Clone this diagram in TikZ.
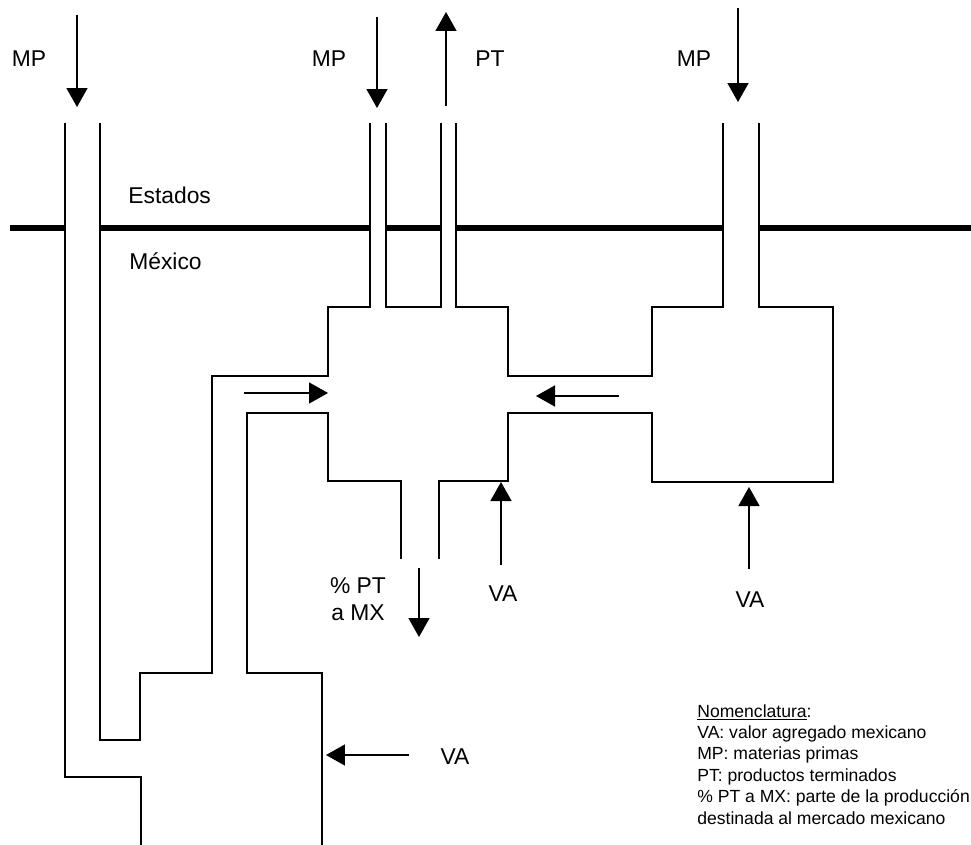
\documentclass[tikz,border=0pt]{standalone}
\usepackage{fontspec}
\setmainfont{Liberation Sans}
\usepackage{tikz}
\usetikzlibrary{arrows.meta,positioning}
\tikzset{
  wall/.style={draw=black, line width=0.9pt, line join=miter},
  border/.style={draw=black, line width=3.2pt},
  flow/.style={draw=black, line width=0.9pt, -{Triangle[length=0.38cm,width=0.42cm]}},
  lbl/.style={font=\fontsize{13}{15.5}\selectfont, inner sep=0pt, align=center},
  legend/.style={font=\fontsize{10}{12.2}\selectfont, inner sep=0pt, align=left, anchor=north west},
}

\begin{document}
\begin{tikzpicture}[x=0.02cm, y=-0.02cm]
  \useasboundingbox (0,0) rectangle (971,845);

  \draw[border] (10,228) -- (65,228);
  \draw[border] (100,228) -- (370,228);
  \draw[border] (386,228) -- (441,228);
  \draw[border] (456,228) -- (723,228);
  \draw[border] (759,228) -- (971,228);

  \draw[wall] (65,123) -- (65,777) -- (141,777) -- (141,845);
  \draw[wall] (100,123) -- (100,740) -- (140,740) -- (140,673) -- (212,673) -- (212,376) -- (328,376) -- (328,307) -- (370,307) -- (370,123);
  \draw[wall] (386,123) -- (386,307) -- (441,307) -- (441,123);
  \draw[wall] (456,123) -- (456,307) -- (508,307) -- (508,376) -- (652,376) -- (652,307) -- (723,307) -- (723,123);
  \draw[wall] (759,123) -- (759,307) -- (833,307) -- (833,482) -- (652,482) -- (652,413) -- (508,413) -- (508,481) -- (439,481) -- (439,559);
  \draw[wall] (401,559) -- (401,481) -- (328,481) -- (328,413) -- (247,413) -- (247,673) -- (322,673) -- (322,845);

  \coordinate (mp1a) at (77,15);    \coordinate (mp1b) at (77,107);
  \coordinate (mp2a) at (377,17);   \coordinate (mp2b) at (377,108);
  \coordinate (pta)  at (446,106);  \coordinate (ptb)  at (446,12);
  \coordinate (mp3a) at (738,8);    \coordinate (mp3b) at (738,102);
  \coordinate (inla) at (244,393);  \coordinate (inlb) at (328,393);
  \coordinate (inra) at (619,396);  \coordinate (inrb) at (536,396);
  \coordinate (mxa)  at (419,568);  \coordinate (mxb)  at (419,637);
  \coordinate (vaca) at (501,565);  \coordinate (vacb) at (501,482);
  \coordinate (vara) at (749,569);  \coordinate (varb) at (749,487);
  \coordinate (vala) at (409,755);  \coordinate (valb) at (326,755);

  \draw[flow] (mp1a) -- (mp1b);
  \draw[flow] (mp2a) -- (mp2b);
  \draw[flow] (pta) -- (ptb);
  \draw[flow] (mp3a) -- (mp3b);
  \draw[flow] (inla) -- (inlb);
  \draw[flow] (inra) -- (inrb);
  \draw[flow] (mxa) -- (mxb);
  \draw[flow] (vaca) -- (vacb);
  \draw[flow] (vara) -- (varb);
  \draw[flow] (vala) -- (valb);

  \node[lbl] (mp1) at (29,59) {MP};
  \node[lbl] (mp2) at (329,59) {MP};
  \node[lbl] (pt) at (490,59) {PT};
  \node[lbl] (mp3) at (694,59) {MP};
  \node[lbl, anchor=west] (usa) at (128,195) {Estados};
  \node[lbl, anchor=west] (mex) at (129,261) {México};
  \node[lbl] (ptmx) at (358,599) {\%~PT\\a MX};
  \node[lbl] (vac) at (503,594) {VA};
  \node[lbl] (var) at (750,600) {VA};
  \node[lbl] (val) at (455,757) {VA};

  \node[legend] (nom) at (697,704) {\underline{Nomenclatura}:\\
    VA: valor agregado mexicano\\
    MP: materias primas\\
    PT: productos terminados\\
    \%~PT a MX: parte de la producción\\
    destinada al mercado mexicano};
\end{tikzpicture}
\end{document}
